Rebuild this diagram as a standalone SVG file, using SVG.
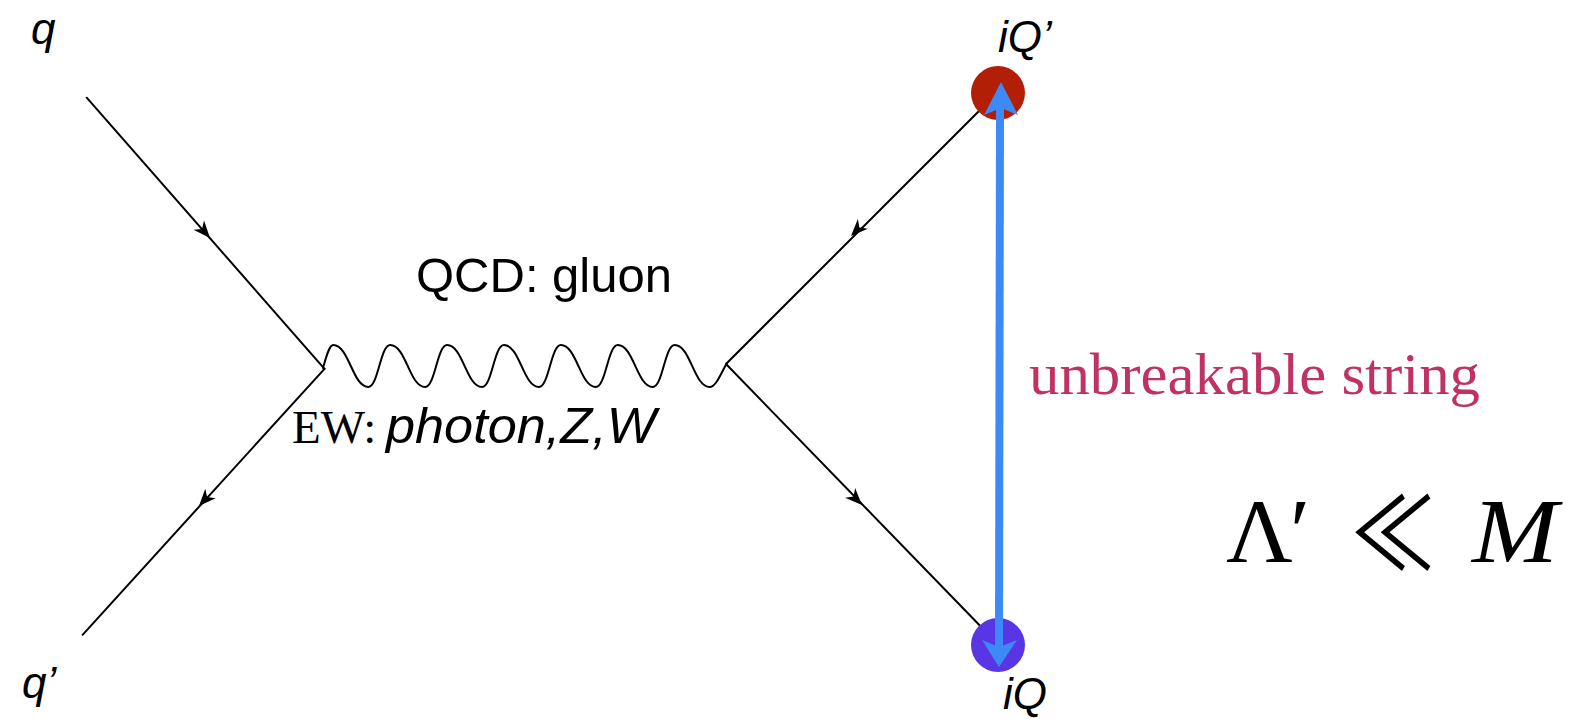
<svg xmlns="http://www.w3.org/2000/svg" width="1580" height="719" viewBox="0 0 1580 719">
<defs>
<style>
.f{stroke:#000;stroke-width:2;fill:none;stroke-linecap:round}
.lbl{font-family:"Liberation Sans",Arial,sans-serif;font-style:italic;fill:#000}
.sans{font-family:"Liberation Sans",Arial,sans-serif;fill:#000}
.serif{font-family:"Liberation Serif","DejaVu Serif",serif;fill:#000}
.blue{fill:#3D8AF7}
</style>
<path id="ah" d="M0,0 L-17,-7 L-12,0 L-17,7 Z" fill="#000"/>
</defs>
<rect width="1580" height="719" fill="#fff"/>
<g id="connectors">
<line class="f" x1="86.7" y1="97.7" x2="324.5" y2="368.8"/>
<line class="f" x1="324.5" y1="368.8" x2="82.6" y2="634.8"/>
<line class="f" x1="726" y1="364" x2="990" y2="100"/>
<line class="f" x1="726" y1="364" x2="990" y2="636"/>
<path class="f" d="M323,368 C326,358 329,345 333.3,345 C349,345 352.6,387 368.3,387 C378.2,387 380.3,345 390.2,345 C406,345 409.5,387 425.2,387 C435.1,387 437.2,345 447.1,345 C462.9,345 466.4,387 482.1,387 C492,387 494.1,345 504,345 C519.8,345 523.3,387 539,387 C548.9,387 551,345 560.9,345 C576.7,345 580.2,387 595.9,387 C605.8,387 607.9,345 617.8,345 C633.6,345 637.1,387 652.8,387 C662.7,387 664.8,345 674.7,345 C690.5,345 694,387 709.7,387 C716,387 721,373 727,363"/>
<use href="#ah" transform="translate(210,238) rotate(48.7)"/>
<use href="#ah" transform="translate(199,506) rotate(132.3)"/>
<use href="#ah" transform="translate(851,236) rotate(134.3)"/>
<use href="#ah" transform="translate(862,505) rotate(45.7)"/>
</g>
<g id="node-iQp">
<circle cx="998" cy="93" r="27" fill="#B21E06"/>
<text class="lbl" x="998" y="52" font-size="44">iQ’</text>
</g>
<g id="node-iQ">
<circle cx="998" cy="645" r="27" fill="#5A35E6"/>
<text class="lbl" x="1003" y="709" font-size="44">iQ</text>
</g>
<g id="string">
<line x1="1000" y1="108" x2="999" y2="648" stroke="#3D8AF7" stroke-width="8"/>
<path class="blue" d="M1001,82 L1018,115 L1001,108 L984,115 Z"/>
<path class="blue" d="M999,667 L982,640 L999,647 L1017,640 Z"/>
</g>
<g id="node-q"><text class="lbl" x="31" y="44" font-size="44">q</text></g>
<g id="node-qp"><text class="lbl" x="22" y="698" font-size="44">q’</text></g>
<g id="labels">
<text class="sans" x="416" y="291.5" font-size="49">QCD: gluon</text>
<text class="serif" x="292" y="443" font-size="47">EW:</text>
<text class="lbl" x="386" y="443" font-size="50" textLength="270" lengthAdjust="spacingAndGlyphs">photon,Z,W</text>
<text class="serif" x="1029" y="394" font-size="60" style="fill:#BF3262" textLength="451" lengthAdjust="spacingAndGlyphs">unbreakable string</text>
<text class="serif" x="1226" y="562" font-size="92">Λ</text>
<text class="serif" x="1290" y="562" font-size="92">′</text>
<text x="1351" y="570" font-size="100" font-family="'Noto Sans CJK JP','DejaVu Serif',sans-serif" textLength="84" lengthAdjust="spacingAndGlyphs">≪</text>
<text class="serif" x="1472" y="562" font-size="92" font-style="italic" textLength="86" lengthAdjust="spacingAndGlyphs">M</text>
</g>
</svg>
